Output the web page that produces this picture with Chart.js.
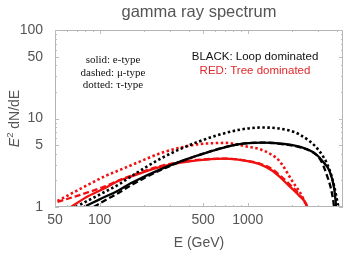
<!DOCTYPE html>
<html>
<head>
<meta charset="utf-8">
<style>
  html, body { margin: 0; padding: 0; background: #fff; }
  #wrap { position: relative; width: 353px; height: 253px; }
</style>
<script src="https://cdn.jsdelivr.net/npm/chart.js@4.4.0/dist/chart.umd.min.js"></script>
</head>
<body>
<div id="wrap"><canvas id="spec"></canvas></div>
<script>
// energies (GeV) and E^2 dN/dE values
var loopE_E   = [78, 100, 135, 162, 269, 455, 857, 1240, 1770, 2235, 2900, 3300, 3550, 3830, 3960, 4000];
var loopE_val = [1.0, 1.22, 1.55, 1.85, 2.75, 3.8, 5.1, 5.35, 5.15, 4.8, 3.94, 3.1, 2.6, 1.65, 1.0, 0.85];

var loopMu_E   = [91, 110, 135, 162, 269, 455, 857, 1240, 1770, 2235, 2750, 3100, 3390, 3700, 3830, 3870];
var loopMu_val = [1.0, 1.2, 1.45, 1.75, 2.7, 3.8, 5.1, 5.35, 5.1, 4.75, 4.15, 3.4, 2.4, 1.45, 1.0, 0.85];

var loopTau_E   = [69, 85, 110, 135, 162, 269, 455, 857, 1240, 1640, 2235, 3040, 3550, 3840, 4100, 4200];
var loopTau_val = [1.0, 1.2, 1.5, 1.8, 2.2, 3.65, 5.4, 7.4, 7.9, 7.7, 6.6, 4.3, 2.7, 1.7, 1.0, 0.85];

var treeE_E   = [64, 84, 110, 135, 162, 269, 455, 700, 1000, 1204, 1450, 1640, 1910, 2235, 2530, 2580];
var treeE_val = [1.0, 1.33, 1.65, 1.98, 2.2, 2.89, 3.37, 3.52, 3.3, 3.05, 2.6, 2.2, 1.72, 1.33, 1.0, 0.85];

var treeMu_E   = [52, 84, 110, 135, 162, 269, 455, 700, 1000, 1204, 1450, 1640, 1910, 2235, 2510, 2560];
var treeMu_val = [1.14, 1.47, 1.72, 2.0, 2.25, 2.95, 3.4, 3.52, 3.32, 3.1, 2.7, 2.3, 1.82, 1.38, 1.0, 0.85];

var treeTau_E   = [52, 84.5, 110, 143, 174, 269, 455, 556, 700, 1000, 1204, 1450, 1640, 2000, 2340, 2490, 2540];
var treeTau_val = [1.17, 1.8, 2.25, 2.7, 3.1, 4.15, 5.1, 5.24, 5.3, 4.8, 4.5, 3.9, 3.3, 1.96, 1.3, 1.0, 0.85];

var xTickLabels = [50, 100, 500, 1000];
var yTickLabels = [1, 5, 10, 50, 100];
var xMinor = [50, 60, 70, 80, 90, 100, 200, 300, 400, 500, 600, 700, 800, 900, 1000, 2000, 3000, 4000];
var yMinor = [1, 2, 3, 4, 5, 6, 7, 8, 9, 10, 20, 30, 40, 50, 60, 70, 80, 90, 100];

function pts(es, vs) {
  return es.map(function (e, i) { return { x: e, y: vs[i] }; });
}

var RED = '#f01010';
var BLK = '#000000';
function series(label, es, vs, color, dash, width) {
  return {
    label: label,
    data: pts(es, vs),
    borderColor: color,
    borderWidth: width,
    borderDash: dash,
    pointRadius: 0,
    fill: false,
    cubicInterpolationMode: 'monotone'
  };
}

var SANS = '"Liberation Sans", Arial, sans-serif';

var textPlugin = {
  id: 'texts',
  afterDraw: function (chart) {
    var c = chart.ctx, a = chart.chartArea;
    var xs = chart.scales.x, ys = chart.scales.y;
    c.save();
    // frame
    c.strokeStyle = '#b4b4b4';
    c.lineWidth = 1;
    c.strokeRect(a.left + 0.5, a.top + 0.5, a.right - a.left - 1, a.bottom - a.top - 1);
    // inner ticks
    c.strokeStyle = '#bcbcbc';
    c.beginPath();
    xMinor.forEach(function (v) {
      var px = Math.round(xs.getPixelForValue(v)) + 0.5;
      var len = xTickLabels.indexOf(v) >= 0 ? 4 : 2;
      c.moveTo(px, a.bottom); c.lineTo(px, a.bottom - len);
      c.moveTo(px, a.top); c.lineTo(px, a.top + len);
    });
    yMinor.forEach(function (v) {
      var py = Math.round(ys.getPixelForValue(v)) + 0.5;
      var len = yTickLabels.indexOf(v) >= 0 ? 4 : 2;
      c.moveTo(a.left, py); c.lineTo(a.left + len, py);
      c.moveTo(a.right, py); c.lineTo(a.right - len, py);
    });
    c.stroke();

    // title
    c.fillStyle = '#555';
    c.textAlign = 'center';
    c.textBaseline = 'middle';
    c.font = '16.5px ' + SANS;
    c.fillText('gamma ray spectrum', (a.left + a.right) / 2, 12);

    // x axis title
    c.font = '14px ' + SANS;
    c.fillText('E (GeV)', (a.left + a.right) / 2, 243);

    // y axis title, rotated
    c.save();
    c.translate(15, (a.top + a.bottom) / 2);
    c.rotate(-Math.PI / 2);
    c.textAlign = 'left';
    var f1 = 'italic 14px ' + SANS;
    var f2 = '9.5px ' + SANS;
    var f3 = '14px ' + SANS;
    c.font = f1; var w1 = c.measureText('E').width;
    c.font = f2; var w2 = c.measureText('2').width;
    c.font = f3; var w3 = c.measureText(' dN/dE').width;
    var sx = -(w1 + w2 + w3) / 2;
    c.font = f1; c.fillText('E', sx, 0);
    c.font = f2; c.fillText('2', sx + w1, -5);
    c.font = f3; c.fillText(' dN/dE', sx + w1 + w2, 0);
    c.restore();

    // line style key
    c.fillStyle = '#111';
    c.font = '11px "Liberation Serif", "DejaVu Serif", serif';
    c.fillText('solid: e-type', 113, 60);
    c.fillText('dashed: \u03bc-type', 113, 73);
    c.fillText('dotted: \u03c4-type', 113, 85);

    // colour key
    c.font = '11.5px ' + SANS;
    c.fillStyle = '#111';
    c.fillText('BLACK: Loop dominated', 255, 57);
    c.fillStyle = '#e0282a';
    c.fillText('RED: Tree dominated', 255, 71);
    c.restore();
  }
};

var ctx = document.getElementById('spec').getContext('2d');
var chart = new Chart(ctx, {
  type: 'line',
  data: {
    datasets: [
      series('loop e', loopE_E, loopE_val, BLK, [], 2.3),
      series('loop mu', loopMu_E, loopMu_val, BLK, [6, 3], 2.3),
      series('loop tau', loopTau_E, loopTau_val, BLK, [2.5, 2.5], 2.6),
      series('tree e', treeE_E, treeE_val, RED, [], 2.3),
      series('tree mu', treeMu_E, treeMu_val, RED, [6, 3], 2.3),
      series('tree tau', treeTau_E, treeTau_val, RED, [2.5, 2.5], 2.6)
    ]
  },
  options: {
    responsive: true,
    maintainAspectRatio: false,
    animation: false,
    layout: { padding: { top: 30, right: 10, left: 0, bottom: 0 } },
    plugins: { legend: { display: false }, tooltip: { enabled: false } },
    scales: {
      x: {
        type: 'logarithmic',
        min: 50,
        max: 4400,
        grid: { display: false, drawTicks: false },
        border: { display: false },
        afterBuildTicks: function (s) { s.ticks = xTickLabels.map(function (v) { return { value: v }; }); },
        afterFit: function (s) { s.height = 46; },
        ticks: {
          color: '#555',
          font: { size: 14, family: SANS },
          maxRotation: 0,
          autoSkip: false,
          padding: 5,
          callback: function (v) { return String(v); }
        }
      },
      y: {
        type: 'logarithmic',
        min: 1,
        max: 100,
        grid: { display: false },
        border: { display: false },
        afterBuildTicks: function (s) { s.ticks = yTickLabels.map(function (v) { return { value: v }; }); },
        afterFit: function (s) { s.width = 55; },
        ticks: {
          color: '#555',
          font: { size: 14, family: SANS },
          autoSkip: false,
          padding: 4,
          callback: function (v) { return String(v); }
        }
      }
    }
  },
  plugins: [textPlugin]
});
</script>
</body>
</html>
